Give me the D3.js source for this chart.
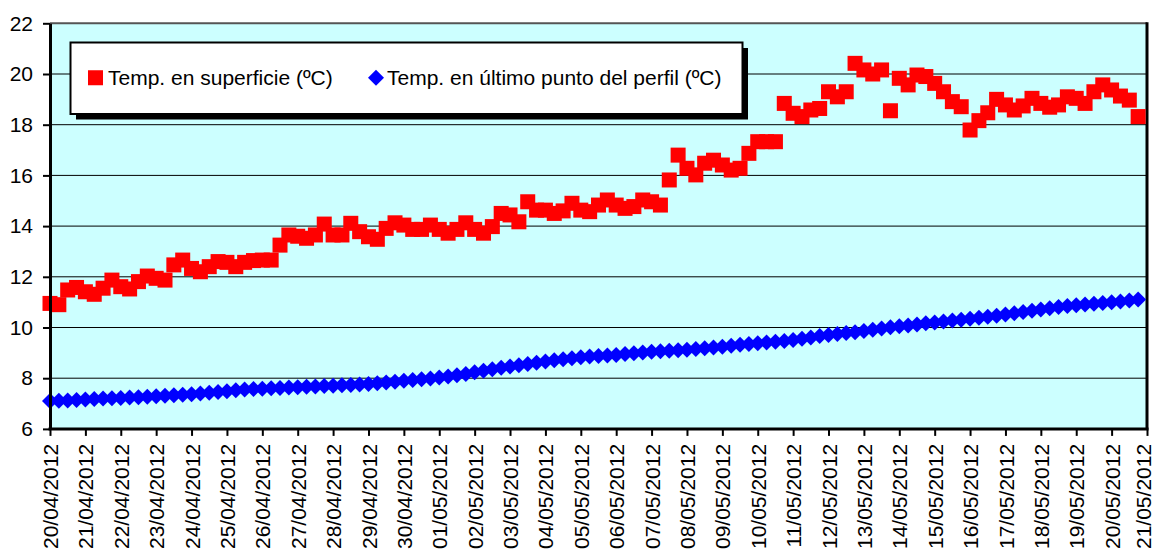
<!DOCTYPE html>
<html>
<head>
<meta charset="utf-8">
<script src="https://cdn.jsdelivr.net/npm/d3@7"></script>
<style>
  html, body { margin: 0; padding: 0; background: #ffffff; }
  svg { display: block; font-family: "Liberation Sans", Arial, sans-serif; }
</style>
</head>
<body>
<svg id="chart" width="1155" height="551"></svg>
<script>
// ---- DATA ----
const dayLabels = [
  "20/04/2012","21/04/2012","22/04/2012","23/04/2012","24/04/2012","25/04/2012",
  "26/04/2012","27/04/2012","28/04/2012","29/04/2012","30/04/2012","01/05/2012",
  "02/05/2012","03/05/2012","04/05/2012","05/05/2012","06/05/2012","07/05/2012",
  "08/05/2012","09/05/2012","10/05/2012","11/05/2012","12/05/2012","13/05/2012",
  "14/05/2012","15/05/2012","16/05/2012","17/05/2012","18/05/2012","19/05/2012",
  "20/05/2012","21/05/2012"
];
const yTicks = [6, 8, 10, 12, 14, 16, 18, 20, 22];
const seriesNames = ["Temp. en superficie (ºC)", "Temp. en último punto del perfil (ºC)"];

// readings every 6 hours starting 20/04/2012 00:00
const tempSuperficie = [
  10.95, 10.90, 11.48, 11.58, 11.41, 11.31, 11.55, 11.87, 11.61, 11.52,
  11.81, 12.03, 11.94, 11.87, 12.47, 12.66, 12.33, 12.20, 12.40, 12.60,
  12.57, 12.40, 12.57, 12.64, 12.66, 12.66, 13.25, 13.65, 13.60, 13.52,
  13.65, 14.08, 13.65, 13.65, 14.11, 13.78, 13.58, 13.48, 13.91, 14.13,
  14.04, 13.87, 13.87, 14.04, 13.87, 13.72, 13.87, 14.13, 13.87, 13.72,
  13.98, 14.50, 14.44, 14.17, 14.96, 14.63, 14.63, 14.50, 14.60, 14.90,
  14.63, 14.57, 14.83, 15.03, 14.83, 14.70, 14.77, 15.03, 14.96, 14.83,
  15.82, 16.80, 16.28, 16.02, 16.48, 16.60, 16.41, 16.21, 16.28, 16.87,
  17.33, 17.33, 17.33, 18.84, 18.45, 18.32, 18.58, 18.64, 19.30, 19.10,
  19.30, 20.42, 20.16, 20.00, 20.16, 18.55, 19.83, 19.57, 19.96, 19.90,
  19.63, 19.30, 18.91, 18.71, 17.79, 18.16, 18.47, 19.00, 18.78, 18.58,
  18.74, 19.04, 18.84, 18.69, 18.78, 19.10, 19.04, 18.84, 19.30, 19.57,
  19.37, 19.13, 18.97, 18.32
];
const tempUltimoPunto = [
  7.10, 7.11, 7.12, 7.14, 7.16, 7.18, 7.20, 7.21, 7.22, 7.24,
  7.25, 7.27, 7.29, 7.31, 7.33, 7.35, 7.37, 7.40, 7.43, 7.46,
  7.49, 7.52, 7.55, 7.57, 7.58, 7.60, 7.61, 7.63, 7.64, 7.66,
  7.67, 7.69, 7.70, 7.72, 7.73, 7.75, 7.77, 7.80, 7.83, 7.86,
  7.90, 7.93, 7.96, 7.99, 8.03, 8.07, 8.12, 8.17, 8.23, 8.29,
  8.35, 8.41, 8.46, 8.51, 8.56, 8.61, 8.66, 8.71, 8.75, 8.79,
  8.83, 8.86, 8.88, 8.90, 8.92, 8.95, 8.98, 9.01, 9.04, 9.06,
  9.08, 9.10, 9.12, 9.15, 9.18, 9.21, 9.24, 9.28, 9.32, 9.35,
  9.38, 9.41, 9.44, 9.47, 9.51, 9.56, 9.61, 9.66, 9.70, 9.74,
  9.78, 9.81, 9.86, 9.91, 9.96, 10.01, 10.05, 10.08, 10.12, 10.17,
  10.20, 10.24, 10.28, 10.31, 10.35, 10.38, 10.42, 10.46, 10.51, 10.56,
  10.61, 10.66, 10.71, 10.76, 10.81, 10.85, 10.88, 10.91, 10.94, 10.97,
  11.00, 11.03, 11.07, 11.10
];
const readingsPerDay = 4;

// ---- LAYOUT ----
const plot = { left: 50, right: 1147, top: 23.3, bottom: 428.9 };
const svg = d3.select("#chart");

const x = d3.scaleLinear().domain([0, dayLabels.length - 1]).range([plot.left, plot.right]);
const y = d3.scaleLinear().domain([6, 22]).range([plot.bottom, plot.top]);

// plot background
svg.append("rect")
  .attr("x", plot.left).attr("y", plot.top)
  .attr("width", plot.right - plot.left).attr("height", plot.bottom - plot.top)
  .attr("fill", "#CCFFFF");

// gridlines
svg.append("g").selectAll("line")
  .data(yTicks.filter(v => v > 6 && v < 22))
  .join("line")
  .attr("x1", plot.left).attr("x2", plot.right)
  .attr("y1", d => y(d)).attr("y2", d => y(d))
  .attr("stroke", "#000").attr("stroke-width", 1);

// top border
svg.append("line")
  .attr("x1", plot.left).attr("x2", plot.right)
  .attr("y1", plot.top).attr("y2", plot.top)
  .attr("stroke", "#555").attr("stroke-width", 2);
// right border
svg.append("line")
  .attr("x1", plot.right).attr("x2", plot.right)
  .attr("y1", plot.top - 1).attr("y2", plot.bottom)
  .attr("stroke", "#000").attr("stroke-width", 3);

// series: red squares
const sq = 15;
svg.append("g").selectAll("rect")
  .data(tempSuperficie)
  .join("rect")
  .attr("x", (d, i) => x(i / readingsPerDay) - sq / 2)
  .attr("y", d => y(d) - sq / 2)
  .attr("width", sq).attr("height", sq)
  .attr("fill", "#FF0000");

// series: blue diamonds
const dm = 8;
svg.append("g").selectAll("path")
  .data(tempUltimoPunto)
  .join("path")
  .attr("d", (d, i) => {
    const cx = x(i / readingsPerDay), cy = y(d);
    return `M${cx},${cy - dm}L${cx + dm},${cy}L${cx},${cy + dm}L${cx - dm},${cy}Z`;
  })
  .attr("fill", "#0000FF");

// x axis
const xAxis = d3.axisBottom(x)
  .tickValues(d3.range(dayLabels.length))
  .tickFormat(i => dayLabels[i])
  .tickSize(7).tickSizeOuter(0);
const gx = svg.append("g").attr("transform", `translate(0,${plot.bottom})`).call(xAxis);
gx.select(".domain").attr("stroke", "#000").attr("stroke-width", 3)
  .attr("d", `M${plot.left - 1.5},0H${plot.right + 1.5}`);
gx.selectAll(".tick line").attr("stroke", "#000").attr("stroke-width", 2);
gx.selectAll(".tick text")
  .attr("font-size", 21)
  .attr("fill", "#000")
  .attr("text-anchor", "end")
  .attr("transform", "rotate(-90)")
  .attr("x", -15)
  .attr("y", (d, i) => i === dayLabels.length - 1 ? -4 : 0)
  .attr("dy", "0.36em");

// y axis
const yAxis = d3.axisLeft(y).tickValues(yTicks).tickSize(7).tickPadding(10).tickSizeOuter(0);
const gy = svg.append("g").attr("transform", `translate(${plot.left},0)`).call(yAxis);
gy.select(".domain").attr("stroke", "#000").attr("stroke-width", 3);
gy.selectAll(".tick line").attr("stroke", "#000").attr("stroke-width", 2);
gy.selectAll(".tick text").attr("font-size", 21).attr("fill", "#000");

// legend
const lg = { x: 70.5, y: 42.5, w: 672, h: 71.5, sh: 5.5 };
const gl = svg.append("g");
gl.append("rect")
  .attr("x", lg.x + lg.sh).attr("y", lg.y + lg.sh)
  .attr("width", lg.w).attr("height", lg.h).attr("fill", "#000");
gl.append("rect")
  .attr("x", lg.x).attr("y", lg.y)
  .attr("width", lg.w).attr("height", lg.h)
  .attr("fill", "#fff").attr("stroke", "#000").attr("stroke-width", 2);
const legY = lg.y + lg.h / 2 - 0.5;
gl.append("rect")
  .attr("x", 88).attr("y", legY - 7.5).attr("width", 15).attr("height", 15)
  .attr("fill", "#FF0000");
gl.append("text")
  .attr("x", 108).attr("y", legY).attr("dy", "0.35em")
  .attr("font-size", 21).attr("fill", "#000")
  .text(seriesNames[0]);
gl.append("path")
  .attr("d", `M376,${legY - 8}L384,${legY}L376,${legY + 8}L368,${legY}Z`)
  .attr("fill", "#0000FF");
gl.append("text")
  .attr("x", 387).attr("y", legY).attr("dy", "0.35em")
  .attr("font-size", 21).attr("fill", "#000")
  .text(seriesNames[1]);
</script>
</body>
</html>
